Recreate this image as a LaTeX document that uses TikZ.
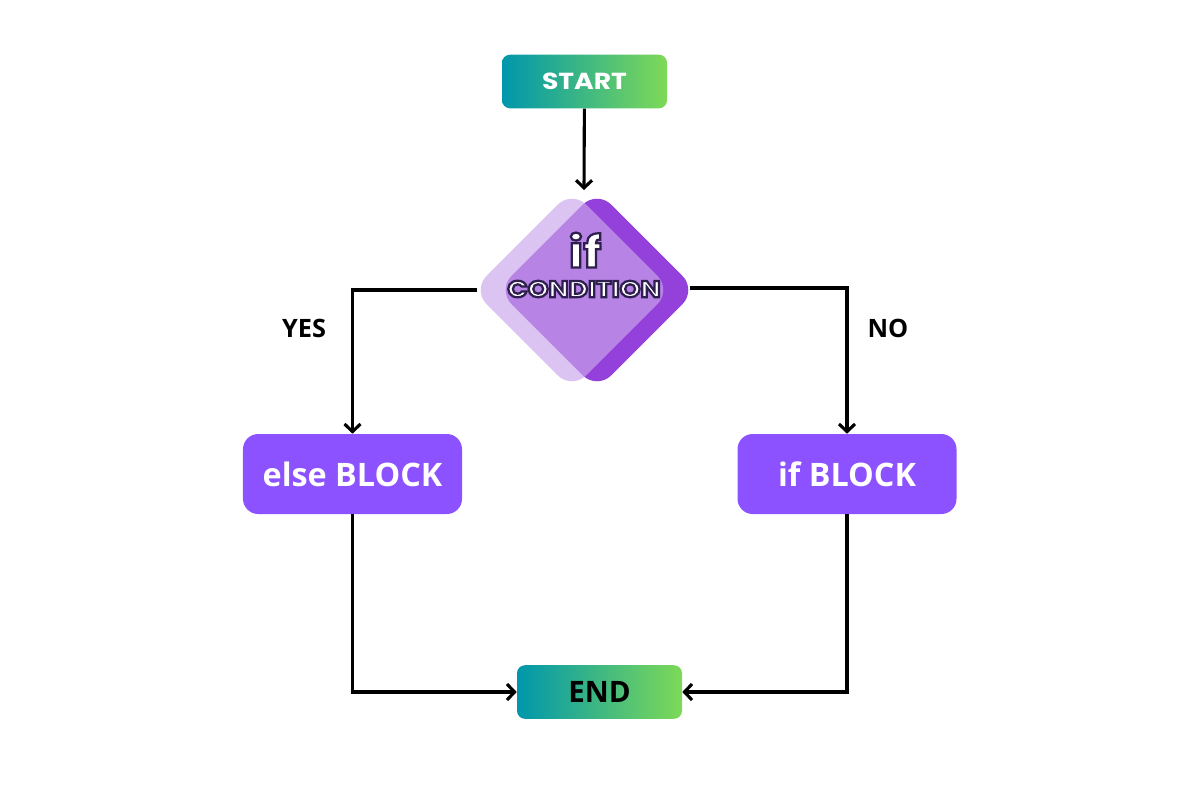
\documentclass[tikz,border=0pt]{standalone}
\usepackage{fontspec}
\setmainfont{Open Sans}
\newfontfamily\widefont[FakeStretch=1.15]{Poppins}
\usetikzlibrary{arrows.meta,calc}

\definecolor{tealish}{RGB}{0,151,172}
\definecolor{limeish}{RGB}{126,217,87}
\definecolor{blockpurple}{RGB}{140,82,255}
\definecolor{darkdiamond}{RGB}{148,64,219}
\definecolor{litediamond}{RGB}{202,166,235}

% white letters with a dark purple rim
\newcommand{\rimtext}[1]{\special{pdf:literal direct q 2 Tr 1.6 w 0.18 0.12 0.31 RG}#1\special{pdf:literal direct Q}}

\begin{document}
\begin{tikzpicture}[
    x=0.25mm, y=-0.25mm,
    terminal/.style={shape=rectangle, rounded corners=2mm, left color=tealish, right color=limeish,
      minimum width=41.25mm, minimum height=13.4mm, inner sep=0pt},
    block/.style={shape=rectangle, rounded corners=3.8mm, fill=blockpurple, text=white,
      minimum width=54.75mm, minimum height=20mm, font=\fontsize{23}{26}\selectfont\bfseries},
    decision/.style={shape=rectangle, rounded corners=5mm, minimum size=35.2mm, rotate=45, inner sep=0pt},
    answer/.style={font=\fontsize{18}{20}\selectfont\bfseries},
    flow/.style={line width=2.2pt, -{Straight Barb[length=1.9mm,width=4mm]}},
  ]
    \useasboundingbox (0,0) rectangle (1200,800);

    \node[terminal, text=white, font=\widefont\fontsize{16.5}{18}\selectfont\bfseries] (start) at (584.5,81.5) {START};

    \node[decision, fill=darkdiamond] (dark) at (597,290) {};
    \node[decision, fill=litediamond, fill opacity=0.66] (lite) at (572,290) {};
    \node[font=\widefont\fontsize{31}{32}\selectfont\bfseries, text=white] (ifword) at (585,250) {\rimtext{if}};
    \node[font=\widefont\fontsize{16.5}{18}\selectfont\bfseries, text=white] (cond) at (584,289) {\rimtext{CONDITION}};

    \coordinate (dtop) at (584,190);
    \draw[flow] (start) -- (dtop);

    \node[block] (elseb) at (352.5,474) {else BLOCK};
    \node[block] (ifb) at (847,474) {if BLOCK};

    \node[terminal, font=\fontsize{21}{24}\selectfont\bfseries] (finish) at (599.5,692) {END};

    \node[answer] (yes) at (304,328) {YES};
    \node[answer] (no) at (888,328) {NO};

    \draw[flow] ($(lite.north west)+(5,0)$) -| (elseb.north);
    \draw[flow] ($(dark.south east)+(-7,-2)$) -| (ifb.north);

    \draw[flow] (elseb.south) |- (finish.west);
    \draw[flow] (ifb.south) |- (finish.east);

\end{tikzpicture}
\end{document}
